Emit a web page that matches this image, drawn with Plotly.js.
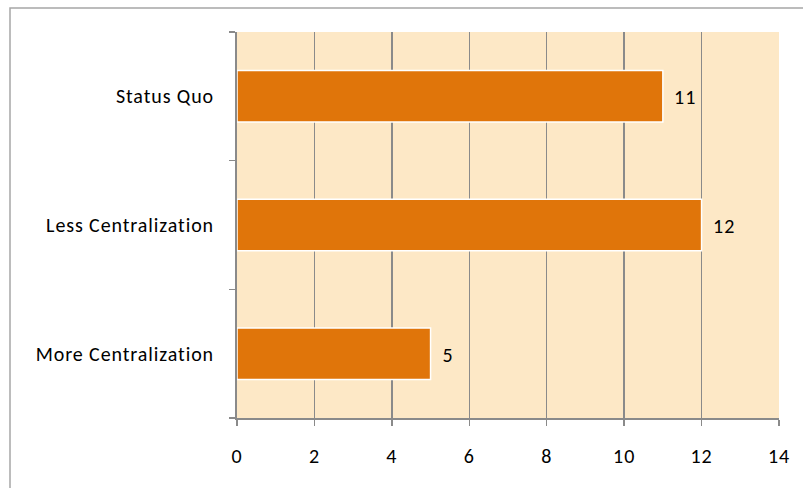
<!DOCTYPE html>
<html>
<head>
<meta charset="utf-8">
<script src="https://cdn.plot.ly/plotly-3.0.1.min.js"></script>
<style>
html,body{margin:0;padding:0;background:#fff;overflow:hidden;}
#chart{width:803px;height:488px;}
#chart text{letter-spacing:0.9px;}
</style>
</head>
<body>
<div id="chart"></div>
<script>
const categories = ["More Centralization", "Less Centralization", "Status Quo"];
const values = [5, 12, 11];
const xTicks = [0, 2, 4, 6, 8, 10, 12, 14];

const FONT = "Carlito, Calibri, Lato, 'Liberation Sans', sans-serif";
const gray = "#8a8a8a";

const trace = {
  type: "bar",
  orientation: "h",
  x: values,
  y: categories,
  marker: {color: "#E0750A", line: {color: "#ffffff", width: 1.5}},
  width: 0.4,
  hoverinfo: "none"
};

const annotations = values.map((v, i) => ({
  x: v, y: categories[i], xref: "x", yref: "y",
  text: String(v), showarrow: false, xanchor: "left", xshift: 10, yshift: -1,
  font: {family: FONT, size: 20, color: "#000"}
}));

const layout = {
  width: 803, height: 488,
  margin: {l: 237, r: 24, t: 32, b: 70},
  paper_bgcolor: "#ffffff",
  plot_bgcolor: "#FDE8C6",
  showlegend: false,
  font: {family: FONT, size: 20, color: "#000"},
  xaxis: {
    range: [0, 14],
    tickvals: xTicks,
    ticktext: xTicks.map(String),
    showgrid: true, gridcolor: gray, gridwidth: 1.5,
    showline: true, linecolor: gray, linewidth: 2,
    ticks: "outside", ticklen: 6, tickcolor: gray, tickwidth: 1.5,
    ticklabelstandoff: 13,
    zeroline: false, fixedrange: true
  },
  yaxis: {
    type: "category",
    categoryorder: "array", categoryarray: categories,
    tickson: "boundaries",
    showgrid: false,
    showline: true, linecolor: gray, linewidth: 2,
    ticks: "outside", ticklen: 6, tickcolor: gray, tickwidth: 1.5,
    ticklabelstandoff: 17,
    zeroline: false, fixedrange: true
  },
  annotations: annotations,
  shapes: [{
    type: "rect", xref: "paper", yref: "paper",
    x0: (10 - 237) / 542, x1: 1.2, y0: -0.4, y1: 1 + (32 - 8) / 386,
    line: {color: "#a6a6a6", width: 1.5}, fillcolor: "rgba(0,0,0,0)", layer: "below"
  }]
};

Plotly.newPlot("chart", [trace], layout, {displayModeBar: false, staticPlot: true});
</script>
</body>
</html>
